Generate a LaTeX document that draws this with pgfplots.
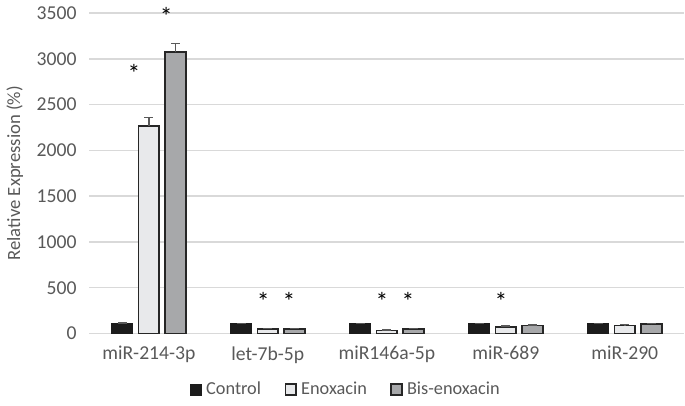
\documentclass[border=0pt]{standalone}
\usepackage{pgfplots}
\pgfplotsset{compat=1.18}
\usepackage{fontspec}
\setmainfont{Carlito}
\definecolor{txt}{HTML}{595959}
\definecolor{gridc}{HTML}{D9D9D9}
\definecolor{ctrl}{HTML}{1C1C1C}
\definecolor{enox}{HTML}{E8E9EB}
\definecolor{bis}{HTML}{A7A8AA}
\definecolor{edge}{HTML}{262626}
\definecolor{errc}{HTML}{595959}

% bars sit at category index -0.223 / 0 / +0.223 (bar width 10.5pt)
\begin{document}
\begin{tikzpicture}
  \begin{axis}[
      scale only axis,
      width=302.5pt, height=163pt,
      xmin=-0.5, xmax=4.5,
      ymin=0, ymax=3500,
      ytick={0,500,...,3500},
      xtick={0,1,2,3,4},
      xticklabels={miR-214-3p,let-7b-5p,miR146a-5p,miR-689,miR-290},
      axis line style={draw=none},
      major tick length=0pt,
      ymajorgrids,
      grid style={draw=gridc, line width=0.75pt},
      tick label style={font=\fontsize{10}{11}\selectfont, text=txt},
      /pgf/number format/assume math mode=true,
      /pgf/number format/set thousands separator={},
      yticklabel style={xshift=-3pt},
      xticklabel style={yshift=-3pt},
      ylabel={Relative Expression (\%)},
      ylabel style={font=\fontsize{9.5}{10}\selectfont, text=txt},
      legend style={at={(0.433,-0.125)}, anchor=north, legend columns=3,
        draw=none, font=\fontsize{9.3}{10}\selectfont, text=txt,
        /tikz/every even column/.append style={column sep=10pt}},
      legend image code/.code={\draw[#1] (0pt,-2.75pt) rectangle (5.5pt,2.75pt);},
      error bars/y dir=plus,
      error bars/y explicit,
      error bars/error bar style={draw=errc, line width=0.75pt},
      error bars/error mark options={rotate=90, mark size=2.25pt, draw=errc, line width=0.75pt},
    ]
    % Control
    \addplot[ybar, bar width=10.5pt, bar shift=0pt, fill=ctrl, draw=ctrl, line width=0.6pt]
      coordinates {(-0.223,105) +- (0,10) (0.777,104) +- (0,8) (1.777,104) +- (0,8)
                   (2.777,104) +- (0,8) (3.777,104) +- (0,8)};
    % Enoxacin
    \addplot[ybar, bar width=10.5pt, bar shift=0pt, fill=enox, draw=edge, line width=0.9pt]
      coordinates {(0,2270) +- (0,90) (1,52) +- (0,5) (2,32) +- (0,4)
                   (3,75) +- (0,5) (4,88) +- (0,10)};
    % Bis-enoxacin
    \addplot[ybar, bar width=10.5pt, bar shift=0pt, fill=bis, draw=edge, line width=0.9pt]
      coordinates {(0.223,3070) +- (0,95) (1.223,52) +- (0,5) (2.223,52) +- (0,5)
                   (3.223,88) +- (0,5) (4.223,100) +- (0,10)};
    % significance stars
    \addplot[draw=none, mark=none, forget plot,
      nodes near coords={*},
      nodes near coords style={anchor=center, font=\fontsize{13}{13}\selectfont, text=black}]
      coordinates {(-0.125,2835) (0.145,3460) (0.96,354) (1.177,354) (1.96,354) (2.177,354) (2.96,354)};
    \legend{Control,Enoxacin,Bis-enoxacin}
  \end{axis}
\end{tikzpicture}
\end{document}
